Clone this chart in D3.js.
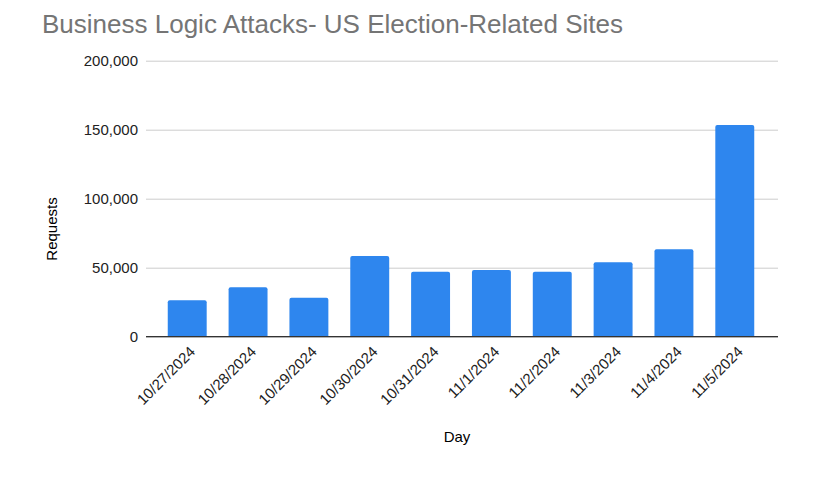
<html>
<head>
	<style>
		body { margin: 0; background: #fff; }
		text { font-family: "Liberation Sans", Arial, sans-serif; }
		.bar { fill: #2e86ee; }
	</style>
	<script src="https://d3js.org/d3.v7.min.js"></script>
</head>
<body>
<svg width="834" height="481"></svg>
<script>
	// data
	var days = ["10/27/2024", "10/28/2024", "10/29/2024", "10/30/2024", "10/31/2024",
		"11/1/2024", "11/2/2024", "11/3/2024", "11/4/2024", "11/5/2024"];
	var requests = [26400, 35800, 28300, 58500, 47100, 48300, 47100, 53900, 63300, 153400];
	var yTicks = [0, 50000, 100000, 150000, 200000];

	var svg = d3.select("svg");

	var plotLeft = 146, plotRight = 778, plotTop = 60.7, plotBottom = 336.7;

	var xScale = d3.scaleBand().domain(days).range([156.8, 765.2]).paddingInner(0.36).paddingOuter(0.18),
		yScale = d3.scaleLinear().domain([0, 200000]).range([plotBottom, plotTop]);

	svg.append("text")
		.attr("x", 42)
		.attr("y", 33)
		.attr("font-size", "26px")
		.attr("fill", "#757575")
		.text("Business Logic Attacks- US Election-Related Sites");

	// gridlines + y labels
	var yAxis = svg.append("g")
		.attr("transform", "translate(" + plotLeft + ",0)")
		.call(d3.axisLeft(yScale).tickValues(yTicks).tickSize(-(plotRight - plotLeft)).tickPadding(8)
			.tickFormat(d3.format(",")));
	yAxis.select(".domain").remove();
	yAxis.selectAll(".tick line").attr("stroke", "#cccccc");
	yAxis.selectAll(".tick text").attr("font-size", "15px").attr("fill", "#222")
		.attr("font-family", "Liberation Sans, Arial, sans-serif");

	// bars with slightly rounded top corners
	svg.selectAll(".bar")
		.data(requests)
		.enter().append("path")
		.attr("class", "bar")
		.attr("d", function(d, i) {
			var x0 = xScale(days[i]), w = xScale.bandwidth(), y0 = yScale(d), r = 2;
			return "M" + x0 + "," + plotBottom + "V" + (y0 + r) + "Q" + x0 + "," + y0 + " " + (x0 + r) + "," + y0 +
				"H" + (x0 + w - r) + "Q" + (x0 + w) + "," + y0 + " " + (x0 + w) + "," + (y0 + r) + "V" + plotBottom + "Z";
		});

	// baseline
	svg.append("line")
		.attr("x1", plotLeft).attr("x2", plotRight)
		.attr("y1", yScale(0)).attr("y2", yScale(0))
		.attr("stroke", "#333").attr("stroke-width", 1.2);

	// x labels
	var xAxis = svg.append("g")
		.attr("transform", "translate(0," + plotBottom + ")")
		.call(d3.axisBottom(xScale).tickSize(0).tickPadding(0));
	xAxis.select(".domain").remove();
	xAxis.selectAll(".tick text")
		.attr("font-size", "15px")
		.attr("fill", "#222")
		.attr("font-family", "Liberation Sans, Arial, sans-serif")
		.attr("text-anchor", "end")
		.attr("dy", null)
		.attr("transform", "translate(9,16) rotate(-45)");

	svg.append("text")
		.attr("x", 457).attr("y", 442)
		.attr("text-anchor", "middle")
		.attr("font-size", "15px")
		.text("Day");

	svg.append("text")
		.attr("transform", "translate(57,229) rotate(-90)")
		.attr("text-anchor", "middle")
		.attr("font-size", "15px")
		.text("Requests");
</script>
</body>
</html>
